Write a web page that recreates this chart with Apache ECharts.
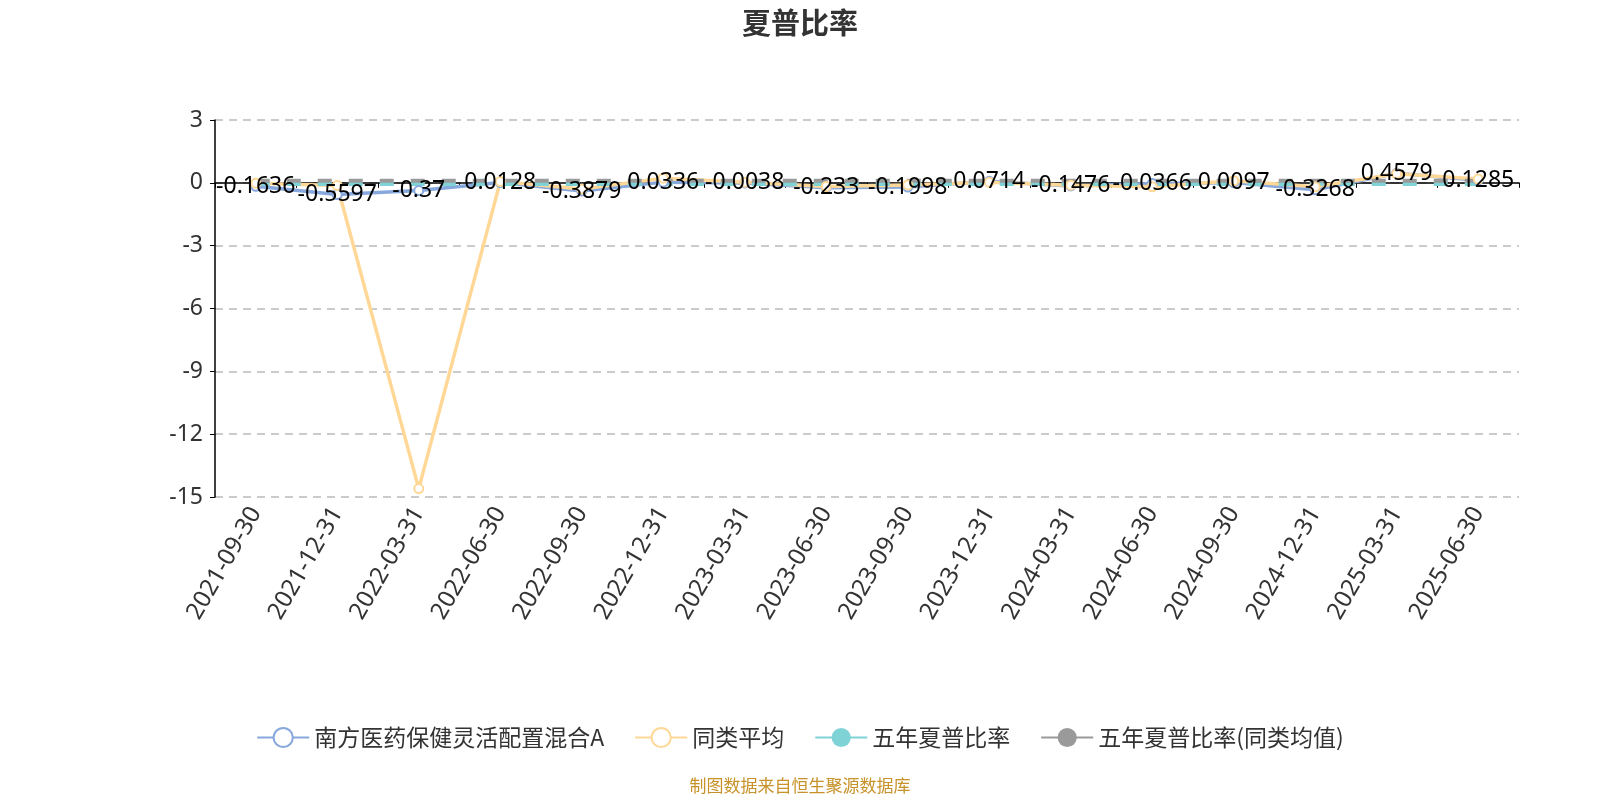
<!DOCTYPE html>
<html>
<head>
<meta charset="utf-8">
<script src="https://cdn.jsdelivr.net/npm/echarts@6/dist/echarts.min.js"></script>
<style>
  html, body { margin: 0; padding: 0; background: #fff; }
  #chart { width: 1600px; height: 800px; }
</style>
</head>
<body>
<div id="chart"></div>
<script>
  var dates = ['2021-09-30', '2021-12-31', '2022-03-31', '2022-06-30', '2022-09-30', '2022-12-31',
    '2023-03-31', '2023-06-30', '2023-09-30', '2023-12-31', '2024-03-31', '2024-06-30',
    '2024-09-30', '2024-12-31', '2025-03-31', '2025-06-30'];
  var fundSharpe = [-0.1636, -0.5597, -0.37, 0.0128, -0.3879, 0.0336, -0.0038, -0.233, -0.1998,
    0.0714, -0.1476, -0.0366, 0.0097, -0.3268, 0.4579, 0.1285];
  var peerSharpe = [-0.02, -0.13, -14.6, 0.06, -0.3, 0.22, 0.03, -0.18, -0.1, 0.03, -0.11, -0.19,
    0.1, -0.19, 0.43, 0.18];
  var fiveYearSharpe = [-0.05, -0.05, -0.05, -0.05, -0.05, -0.05, -0.05, -0.05, -0.05, -0.05,
    -0.05, -0.05, -0.05, -0.05, -0.05, -0.05];
  var fiveYearPeer = [0.1, 0.1, 0.1, 0.1, 0.1, 0.1, 0.1, 0.1, 0.1, 0.1, 0.1, 0.1, 0.1, 0.1, 0.1, 0.1];
  var yTicks = { min: -15, max: 3, interval: 3 };

  var chart = echarts.init(document.getElementById('chart'));

  var option = {
    textStyle: { fontFamily: '"Noto Sans", "Noto Sans CJK SC", sans-serif' },
    title: [
      {
        text: '夏普比率',
        left: 'center',
        top: 3,
        textStyle: { fontSize: 29, fontWeight: 'bold', color: '#333', fontFamily: '"Noto Sans CJK SC", sans-serif' }
      },
      {
        text: '制图数据来自恒生聚源数据库',
        left: 'center',
        bottom: 1,
        textStyle: { fontSize: 17, fontWeight: 'normal', color: '#c8922a', fontFamily: '"Noto Sans CJK SC", sans-serif' }
      }
    ],
    legend: {
      bottom: 46,
      left: 'center',
      itemWidth: 52,
      itemHeight: 24,
      itemGap: 30,
      lineStyle: { type: 'solid' },
      textStyle: { fontSize: 23, color: '#333', fontFamily: '"Noto Sans CJK SC", sans-serif' },
      data: ['南方医药保健灵活配置混合A', '同类平均', '五年夏普比率', '五年夏普比率(同类均值)']
    },
    grid: {
      left: 215,
      right: 81,
      top: 120,
      bottom: 303,
      containLabel: false,
      outerBoundsMode: 'none'
    },
    xAxis: {
      type: 'category',
      data: dates,
      axisLine: { lineStyle: { color: '#000', width: 1.5 } },
      axisTick: { show: true, interval: 0, lineStyle: { color: '#000' } },
      axisLabel: {
        interval: 0,
        rotate: 60,
        fontSize: 24,
        color: '#333',
        margin: 12
      }
    },
    yAxis: {
      type: 'value',
      min: yTicks.min,
      max: yTicks.max,
      interval: yTicks.interval,
      axisLine: { show: true, lineStyle: { color: '#000', width: 1.5 } },
      axisTick: { show: true, lineStyle: { color: '#000' } },
      axisLabel: { fontSize: 23, color: '#333', margin: 12 },
      splitLine: { lineStyle: { type: [8, 6], color: '#bbb', width: 1.5 } }
    },
    series: [
      {
        name: '南方医药保健灵活配置混合A',
        type: 'line',
        data: fundSharpe,
        color: '#87a8dc',
        symbol: 'circle',
        symbolSize: 9,
        itemStyle: { color: '#fff', borderColor: '#87a8dc', borderWidth: 2 },
        lineStyle: { color: '#87a8dc', width: 3.5 },
        label: {
          show: true,
          position: 'inside',
          fontSize: 23,
          color: '#000'
        },
        z: 2
      },
      {
        name: '同类平均',
        type: 'line',
        data: peerSharpe,
        color: '#ffd898',
        symbol: 'circle',
        symbolSize: 9,
        itemStyle: { color: '#fff', borderColor: '#ffd898', borderWidth: 2 },
        lineStyle: { color: '#ffd898', width: 3.5 },
        z: 2
      },
      {
        name: '五年夏普比率',
        type: 'line',
        data: fiveYearSharpe,
        color: '#7fd3d6',
        symbol: 'circle',
        symbolSize: 9,
        showSymbol: false,
        lineStyle: { color: '#7fd3d6', width: 4, type: [14, 17] },
        z: 2
      },
      {
        name: '五年夏普比率(同类均值)',
        type: 'line',
        data: fiveYearPeer,
        color: '#9a9a9a',
        symbol: 'circle',
        symbolSize: 9,
        showSymbol: false,
        lineStyle: { color: '#9a9a9a', width: 4, type: [14, 17] },
        z: 2
      }
    ]
  };

  chart.setOption(option);
</script>
</body>
</html>
